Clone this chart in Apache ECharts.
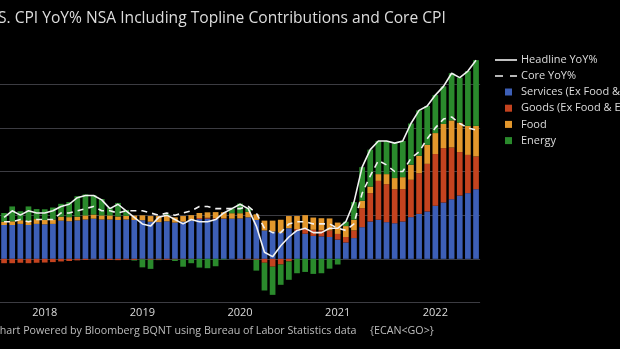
<!DOCTYPE html>
<html>
<head>
<meta charset="utf-8">
<script src="https://cdn.jsdelivr.net/npm/echarts@6/dist/echarts.min.js"></script>
<style>
  html, body { margin: 0; padding: 0; background: #000; }
  #chart { width: 620px; height: 349px; }
</style>
</head>
<body>
<div id="chart"></div>
<script>
// Monthly observations, Aug 2017 through Jun 2022 (59 months)
const startYear = 2017, startMonth = 8, monthCount = 59;
const categories = [];
for (let i = 0; i < monthCount; i++) {
  const m = (startMonth - 1 + i) % 12 + 1;
  const y = startYear + Math.floor((startMonth - 1 + i) / 12);
  categories.push(y + '-' + (m < 10 ? '0' + m : m));
}

// CPI YoY %, not seasonally adjusted
const headline = [
  1.9, 2.2, 2.0, 2.2, 2.1,
  2.1, 2.2, 2.4, 2.5, 2.8, 2.9, 2.9, 2.7, 2.3, 2.5, 2.2, 1.9,
  1.6, 1.5, 1.9, 2.0, 1.8, 1.6, 1.8, 1.7, 1.7, 1.8, 2.1, 2.3,
  2.5, 2.3, 1.5, 0.3, 0.1, 0.6, 1.0, 1.3, 1.4, 1.2, 1.2, 1.4,
  1.4, 1.7, 2.6, 4.2, 5.0, 5.4, 5.4, 5.3, 5.4, 6.2, 6.8, 7.0,
  7.5, 7.9, 8.5, 8.3, 8.6, 9.1
];
const core = [
  1.7, 1.7, 1.8, 1.7, 1.8,
  1.8, 1.8, 2.1, 2.1, 2.2, 2.3, 2.4, 2.2, 2.2, 2.1, 2.2, 2.2,
  2.2, 2.1, 2.0, 2.1, 2.0, 2.1, 2.2, 2.4, 2.4, 2.3, 2.3, 2.3,
  2.3, 2.4, 2.1, 1.4, 1.2, 1.2, 1.6, 1.7, 1.7, 1.6, 1.6, 1.6,
  1.4, 1.3, 1.6, 3.0, 3.8, 4.5, 4.3, 4.0, 4.0, 4.6, 4.9, 5.5,
  6.0, 6.4, 6.5, 6.2, 6.0, 5.9
];

// Contributions to headline, percentage points
const services = [
  1.55, 1.55, 1.6, 1.55, 1.6,
  1.58, 1.6, 1.75, 1.72, 1.76, 1.8, 1.84, 1.8, 1.8, 1.78, 1.8, 1.78,
  1.77, 1.7, 1.68, 1.72, 1.66, 1.7, 1.76, 1.82, 1.84, 1.83, 1.83, 1.84,
  1.85, 1.9, 1.78, 1.3, 1.25, 1.2, 1.4, 1.28, 1.15, 1.05, 1.03, 1.0,
  0.88, 0.75, 0.95, 1.45, 1.71, 1.79, 1.68, 1.63, 1.71, 1.91, 2.06, 2.17,
  2.43, 2.58, 2.73, 2.9, 3.01, 3.19
];
const goods = [
  -0.2, -0.2, -0.18, -0.2, -0.18,
  -0.17, -0.15, -0.12, -0.1, -0.07, -0.05, -0.02, -0.04, -0.05, -0.06, -0.04, -0.05,
  -0.02, -0.04, -0.04, -0.04, -0.03, -0.02, -0.01, 0.05, 0.04, 0.03, 0.02, 0.0,
  -0.03, -0.02, -0.04, -0.18, -0.36, -0.26, -0.12, 0.08, 0.25, 0.28, 0.28, 0.3,
  0.26, 0.25, 0.35, 0.87, 1.3, 1.78, 1.74, 1.56, 1.48, 1.71, 1.86, 2.18,
  2.37, 2.49, 2.37, 1.99, 1.75, 1.5
];
const food = [
  0.15, 0.17, 0.17, 0.18, 0.22,
  0.2, 0.2, 0.18, 0.19, 0.17, 0.19, 0.19, 0.19, 0.19, 0.16, 0.17, 0.2,
  0.22, 0.26, 0.28, 0.25, 0.24, 0.26, 0.24, 0.23, 0.25, 0.28, 0.28, 0.25,
  0.24, 0.25, 0.26, 0.45, 0.5, 0.59, 0.56, 0.6, 0.6, 0.56, 0.55, 0.55,
  0.52, 0.5, 0.49, 0.34, 0.3, 0.31, 0.46, 0.51, 0.55, 0.69, 0.8, 0.87,
  0.96, 1.11, 1.24, 1.35, 1.33, 1.4
];
const energy = [
  0.4, 0.68, 0.41, 0.67, 0.46,
  0.49, 0.55, 0.59, 0.69, 0.94, 0.96, 0.89, 0.75, 0.36, 0.62, 0.27, -0.03,
  -0.37, -0.42, -0.02, 0.07, -0.07, -0.34, -0.19, -0.4, -0.43, -0.34, -0.03, 0.21,
  0.44, 0.17, -0.5, -1.27, -1.29, -0.93, -0.84, -0.66, -0.6, -0.69, -0.66, -0.45,
  -0.26, 0.2, 0.81, 1.54, 1.69, 1.52, 1.52, 1.6, 1.66, 1.89, 2.08, 1.78,
  1.74, 1.72, 2.16, 2.06, 2.51, 3.01
];

const titleText = 'U.S. CPI YoY% NSA Including Topline Contributions and Core CPI';
const sourceText = 'Chart Powered by Bloomberg BQNT using Bureau of Labor Statistics data';
const tickerText = '{ECAN<GO>}';
const lineNames = ['Headline YoY%', 'Core YoY%'];
const barNames = ['Services (Ex Food & Energy)', 'Goods (Ex Food & Energy)', 'Food', 'Energy'];

const FONT = "'Open Sans', 'Noto Sans', sans-serif";
const TEXT = '#dcdcdc';
const GRID = '#3c3c42';
const LINE = '#f2f2f2';

const chart = echarts.init(document.getElementById('chart'), null, { renderer: 'canvas' });

function barSeries(name, data, color) {
  return {
    name, type: 'bar', stack: 'contrib', data,
    barCategoryGap: '30%',
    itemStyle: { color },
    emphasis: { disabled: true }
  };
}

// Legend rows for the two line series: a short stroke followed by the label
function lineKey(name, y, dash) {
  return [
    {
      type: 'line', silent: true,
      shape: { x1: 495, y1: y, x2: 517, y2: y },
      style: { stroke: LINE, lineWidth: 1.6, lineDash: dash }
    },
    {
      type: 'text', silent: true, x: 521, y: y,
      style: { text: name, fill: TEXT, font: "11px 'Open Sans', sans-serif", textVerticalAlign: 'middle' }
    }
  ];
}

chart.setOption({
  backgroundColor: '#000',
  animation: false,
  textStyle: { fontFamily: FONT },
  title: {
    text: titleText,
    left: -17.5, top: 11, padding: 0,
    textStyle: { color: TEXT, fontSize: 15.6, fontWeight: 'normal', fontFamily: FONT }
  },
  legend: {
    data: barNames,
    orient: 'vertical', left: 505, top: 85, padding: 0,
    itemWidth: 7, itemHeight: 7, itemGap: 2.2,
    icon: 'rect',
    selectedMode: false,
    textStyle: { color: TEXT, fontSize: 11, lineHeight: 14, fontFamily: FONT, padding: [0, 0, 0, 4] }
  },
  grid: { left: -3.1, right: 139.9, top: 40.5, bottom: 46.5, containLabel: false },
  xAxis: {
    type: 'category',
    data: categories,
    axisLine: { show: false },
    axisTick: { show: false },
    axisLabel: {
      color: TEXT, fontSize: 11, margin: 5, fontFamily: FONT,
      interval: (idx, val) => val.endsWith('-01'),
      formatter: (val) => val.slice(0, 4)
    }
  },
  yAxis: {
    type: 'value',
    min: -2, max: 10, interval: 2,
    axisLabel: { show: false },
    axisLine: { show: false },
    axisTick: { show: false },
    splitLine: {
      lineStyle: { color: [GRID, GRID, GRID, GRID, GRID, GRID, 'transparent'], width: 1 }
    }
  },
  series: [
    barSeries(barNames[0], services, '#3d5fb7'),
    barSeries(barNames[1], goods, '#c4431f'),
    barSeries(barNames[2], food, '#e3972c'),
    barSeries(barNames[3], energy, '#2a8a2c'),
    {
      name: lineNames[0], type: 'line', data: headline,
      symbol: 'none', z: 5,
      lineStyle: { color: LINE, width: 1.6 },
      itemStyle: { color: LINE }
    },
    {
      name: lineNames[1], type: 'line', data: core,
      symbol: 'none', z: 5,
      lineStyle: { color: LINE, width: 1.6, type: [6, 5] },
      itemStyle: { color: LINE }
    }
  ],
  graphic: [
    ...lineKey(lineNames[0], 60, null),
    ...lineKey(lineNames[1], 76, [8, 7]),
    {
      type: 'text', left: -7, top: 325,
      style: { text: sourceText, fill: '#bdbdbd', font: "10.7px 'Open Sans', sans-serif" }
    },
    {
      type: 'text', left: 370, top: 325,
      style: { text: tickerText, fill: '#bdbdbd', font: "10.7px 'Open Sans', sans-serif" }
    }
  ]
});
</script>
</body>
</html>
